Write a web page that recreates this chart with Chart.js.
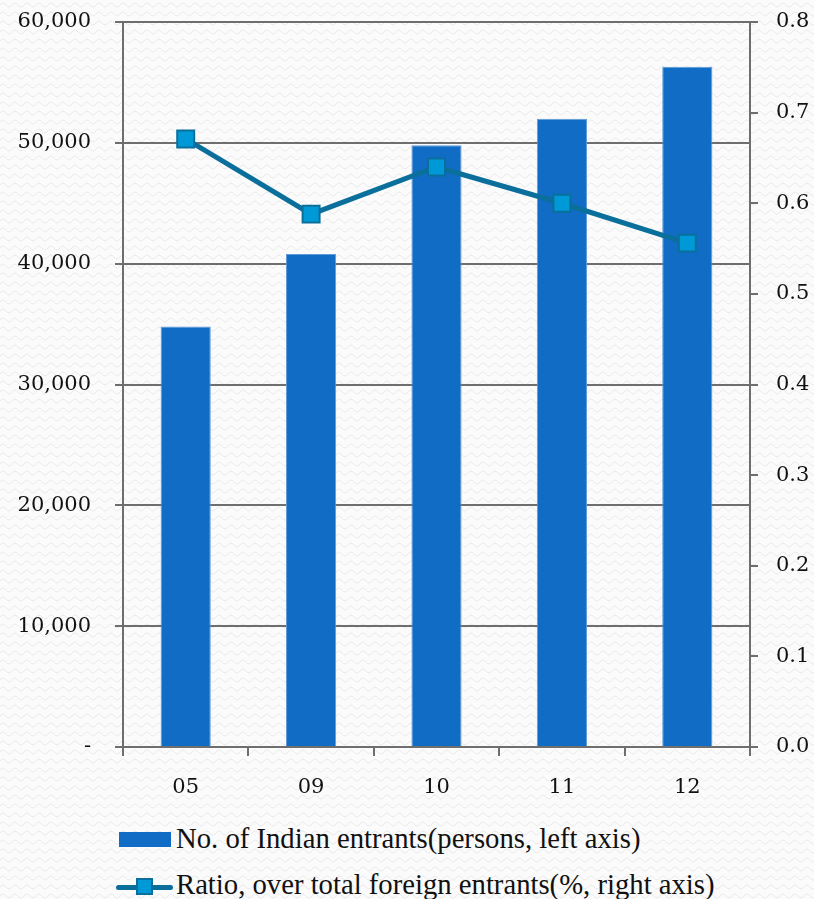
<!DOCTYPE html>
<html lang="en">
<head>
<meta charset="utf-8">
<title>Indian entrants</title>
<script src="https://cdn.jsdelivr.net/npm/chart.js@4.4.1/dist/chart.umd.min.js"></script>
<style>
    html, body {
        margin: 0;
        padding: 0;
    }

    body {
        width: 814px;
        height: 899px;
        overflow: hidden;
        position: relative;
        background-color: #fbfbfb;
        background-image: url("data:image/svg+xml,%3Csvg xmlns='http://www.w3.org/2000/svg' width='12' height='9'%3E%3Cpath d='M0 5 Q3 1 6 5 T12 5' fill='none' stroke='%23e9e9e9' stroke-width='1'/%3E%3C/svg%3E");
    }

    .chart-box {
        position: absolute;
        left: 0;
        top: 0;
        width: 814px;
        height: 810px;
    }

    .legend-item {
        position: absolute;
        left: 0;
        height: 30px;
        font-family: "Liberation Serif", "Times New Roman", serif;
        font-size: 28.7px;
        color: #111111;
        white-space: nowrap;
    }

    .legend-text {
        position: absolute;
        left: 176px;
        top: 0;
        line-height: 30px;
    }

    .swatch-bar {
        position: absolute;
        left: 119px;
        top: 9px;
        width: 52px;
        height: 15px;
        background: #116cc5;
    }

    .swatch-line {
        position: absolute;
        left: 116px;
        top: 16px;
        width: 57px;
        height: 5px;
        border-radius: 3px;
        background: #0b6f9c;
    }

    .swatch-point {
        position: absolute;
        left: 136px;
        top: 9px;
        width: 13px;
        height: 13px;
        background: #0099d8;
        border: 2px solid #0b6f9c;
    }
</style>
</head>
<body>
<div class="chart-box">
    <canvas id="entrantsChart"></canvas>
</div>

<div class="legend-item" style="top: 823px;">
    <div class="swatch-bar"></div>
    <span class="legend-text">No. of Indian entrants(persons, left axis)</span>
</div>

<div class="legend-item" style="top: 869px;">
    <div class="swatch-line"></div>
    <div class="swatch-point"></div>
    <span class="legend-text">Ratio, over total foreign entrants(%, right axis)</span>
</div>

<script>
const years = ["05", "09", "10", "11", "12"];

const indianEntrants = [34800, 40800, 49800, 52000, 56300];

const foreignRatio = [0.671, 0.588, 0.640, 0.600, 0.556];

const leftTicks = [0, 10000, 20000, 30000, 40000, 50000, 60000];
const rightTicks = [0, 0.1, 0.2, 0.3, 0.4, 0.5, 0.6, 0.7, 0.8];

const axisGrey = "#6e6e6e";
const tickFont = {
    family: "'DejaVu Serif', serif",
    size: 21
};


document.addEventListener("DOMContentLoaded", function () {
    initializeEntrantsChart();
});


// the tick padding would otherwise be added above the plot too
function fixScaleWidth(width) {
    return function (scale) {
        scale.width = width;
        scale.paddingTop = 0;
        scale.paddingBottom = 0;
    };
}


function initializeEntrantsChart() {
    const canvas = document.getElementById("entrantsChart");

    if (!canvas || typeof Chart === "undefined") {
        return;
    }

    new Chart(canvas, {
        data: {
            labels: years,

            datasets: [
                {
                    type: "line",
                    label: "Ratio, over total foreign entrants(%, right axis)",
                    data: foreignRatio,
                    yAxisID: "yRight",
                    order: 0,

                    borderColor: "#0b6f9c",
                    borderWidth: 5,
                    tension: 0,

                    pointStyle: "rect",
                    pointRadius: 12,
                    pointHoverRadius: 12,
                    pointBackgroundColor: "#0099d8",
                    pointBorderColor: "#0b6f9c",
                    pointBorderWidth: 2
                },
                {
                    type: "bar",
                    label: "No. of Indian entrants(persons, left axis)",
                    data: indianEntrants,
                    yAxisID: "yLeft",
                    order: 1,

                    backgroundColor: "#116cc5",
                    borderColor: "#5d9ad8",
                    borderWidth: 1,
                    barPercentage: 0.4,
                    categoryPercentage: 1
                }
            ]
        },

        options: {
            responsive: true,
            maintainAspectRatio: false,
            animation: false,

            layout: {
                padding: {
                    top: 22,
                    left: 0,
                    right: 0,
                    bottom: 0
                }
            },

            plugins: {
                legend: {
                    display: false
                },
                tooltip: {
                    enabled: false
                }
            },

            scales: {
                x: {
                    offset: true,

                    afterFit: function (scale) {
                        scale.height = 63;
                    },

                    grid: {
                        offset: true,
                        drawOnChartArea: false,
                        color: axisGrey,
                        lineWidth: 2,
                        tickLength: 9
                    },

                    border: {
                        color: axisGrey,
                        width: 2
                    },

                    ticks: {
                        color: "#111111",
                        font: tickFont,
                        padding: 19
                    }
                },

                yLeft: {
                    position: "left",
                    min: 0,
                    max: 60000,

                    afterFit: fixScaleWidth(123),

                    afterBuildTicks: function (scale) {
                        scale.ticks = leftTicks.map(function (value) {
                            return { value: value };
                        });
                    },

                    grid: {
                        color: axisGrey,
                        lineWidth: 2,
                        tickLength: 8
                    },

                    border: {
                        color: axisGrey,
                        width: 2
                    },

                    ticks: {
                        color: "#111111",
                        font: tickFont,
                        padding: 24,
                        callback: function (value) {
                            if (value === 0) {
                                return "-";
                            }

                            return Number(value).toLocaleString("en-US");
                        }
                    }
                },

                yRight: {
                    position: "right",
                    min: 0,
                    max: 0.8,

                    afterFit: fixScaleWidth(64),

                    afterBuildTicks: function (scale) {
                        scale.ticks = rightTicks.map(function (value) {
                            return { value: value };
                        });
                    },

                    grid: {
                        drawOnChartArea: false,
                        color: axisGrey,
                        lineWidth: 2,
                        tickLength: 8
                    },

                    border: {
                        color: axisGrey,
                        width: 2
                    },

                    ticks: {
                        color: "#111111",
                        font: tickFont,
                        padding: 18,
                        callback: function (value) {
                            return Number(value).toFixed(1);
                        }
                    }
                }
            }
        }
    });
}
</script>
</body>
</html>
